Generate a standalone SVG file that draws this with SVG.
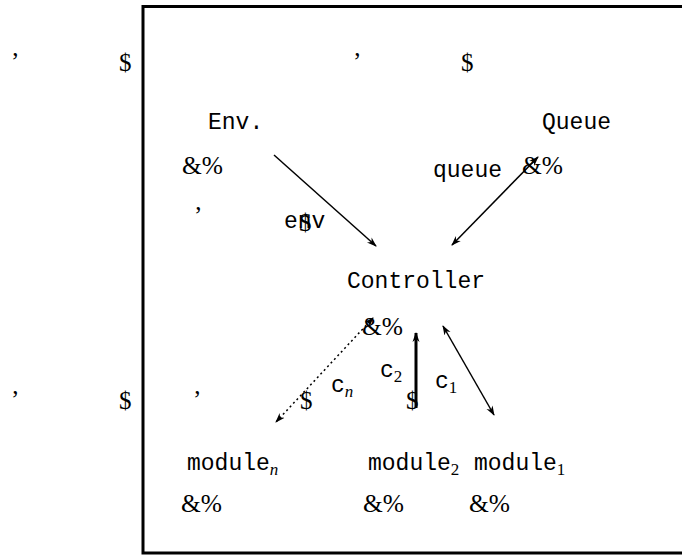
<svg xmlns="http://www.w3.org/2000/svg" width="682" height="556" viewBox="0 0 682 556">
<defs>
<style>
.tt{font-family:"Liberation Mono",monospace;font-size:23px;fill:#000}
.rm{font-family:"Liberation Serif",serif;font-size:25px;fill:#000}
.amp{font-family:"Liberation Serif",serif;font-size:26px;fill:#000}
.sub{font-family:"Liberation Serif",serif;font-size:17px;fill:#000}
.subi{font-family:"Liberation Serif",serif;font-style:italic;font-size:17px;fill:#000}
.ln{stroke:#000;stroke-width:1.5;fill:none}
</style>
<marker id="ah" viewBox="0 0 10 10" refX="9" refY="5" markerWidth="10" markerHeight="10" markerUnits="userSpaceOnUse" orient="auto-start-reverse">
<path d="M0,1.5 L10,5 L0,8.5 L3,5 Z" fill="#000"/>
</marker>
</defs>
<rect width="682" height="556" fill="#fff"/>
<g id="frame">
<path d="M682,553 H143 V6.5 H682" stroke="#000" stroke-width="3" fill="none"/>
</g>
<g id="stray">
<text class="rm" x="11" y="70">’</text>
<text class="rm" x="119" y="71">$</text>
<text class="rm" x="353" y="70">’</text>
<text class="rm" x="461" y="71">$</text>
<text class="rm" x="194" y="224">’</text>
<text class="rm" x="11" y="408">’</text>
<text class="rm" x="119" y="409">$</text>
<text class="rm" x="193" y="408">’</text>
<text class="rm" x="300" y="409">$</text>
<text class="rm" x="406" y="409">$</text>
<text class="rm" x="299" y="231">$</text>
</g>
<g id="env">
<text class="tt" x="208" y="129">Env.</text>
<text class="amp" x="182" y="174" textLength="41" lengthAdjust="spacingAndGlyphs">&amp;%</text>
</g>
<g id="queue">
<text class="tt" x="542" y="129">Queue</text>
<text class="amp" x="522" y="174" textLength="41" lengthAdjust="spacingAndGlyphs">&amp;%</text>
</g>
<g id="controller">
<text class="tt" x="347" y="288">Controller</text>
<text class="amp" x="362" y="335" textLength="41" lengthAdjust="spacingAndGlyphs">&amp;%</text>
</g>
<g id="module_n">
<text class="tt" x="187" y="470">module<tspan class="subi" dy="5">n</tspan></text>
<text class="amp" x="181" y="512" textLength="41" lengthAdjust="spacingAndGlyphs">&amp;%</text>
</g>
<g id="module_2">
<text class="tt" x="368" y="470">module<tspan class="sub" dy="5">2</tspan></text>
<text class="amp" x="363" y="512" textLength="41" lengthAdjust="spacingAndGlyphs">&amp;%</text>
</g>
<g id="module_1">
<text class="tt" x="474" y="470">module<tspan class="sub" dy="5">1</tspan></text>
<text class="amp" x="469" y="512" textLength="41" lengthAdjust="spacingAndGlyphs">&amp;%</text>
</g>
<g id="connectors">
<line class="ln" x1="274" y1="155" x2="376" y2="246" marker-end="url(#ah)"/>
<line class="ln" x1="538" y1="157" x2="452" y2="245" marker-start="url(#ah)" marker-end="url(#ah)"/>
<line class="ln" x1="373" y1="318" x2="276" y2="422" stroke-dasharray="2,3" stroke-width="2" marker-start="url(#ah)" marker-end="url(#ah)"/>
<line x1="416" y1="408" x2="416" y2="333" stroke="#000" stroke-width="3" marker-end="url(#ah)"/>
<line class="ln" x1="443" y1="326" x2="494" y2="415" marker-start="url(#ah)" marker-end="url(#ah)"/>
<text class="tt" x="284" y="228">env</text>
<text class="tt" x="433" y="177">queue</text>
<text class="tt" x="380" y="377">c<tspan class="sub" dy="5">2</tspan></text>
<text class="tt" x="331" y="392">c<tspan class="subi" dy="5">n</tspan></text>
<text class="tt" x="435" y="388">c<tspan class="sub" dy="5">1</tspan></text>
</g>
</svg>
